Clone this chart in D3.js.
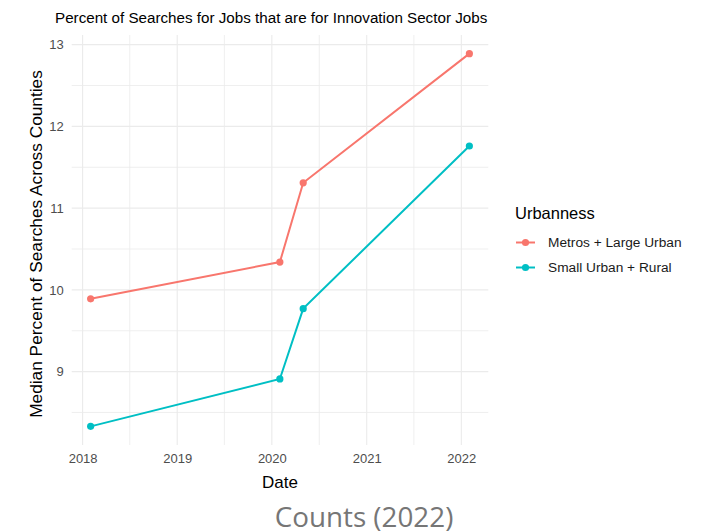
<!DOCTYPE html>
<html>
<head>
<meta charset="utf-8">
<script src="https://cdn.jsdelivr.net/npm/d3@7"></script>
<style>
  body { margin: 0; background: #fff; }
  text { font-family: "Liberation Sans", Arial, sans-serif; }
</style>
</head>
<body>
<div id="chart"></div>
<script>
// data
var dates = ["2018-02-01", "2020-02-01", "2020-05-01", "2022-02-01"];
var metroValues = [9.89, 10.34, 11.31, 12.89];
var ruralValues = [8.33, 8.91, 9.77, 11.76];
var seriesNames = ["Metros + Large Urban", "Small Urban + Rural"];
var seriesColors = ["#F8766D", "#00BFC4"];
var xTickLabels = ["2018", "2019", "2020", "2021", "2022"];
var yTicks = [9, 10, 11, 12, 13];

var width = 703, height = 532;
var parse = d3.timeParse("%Y-%m-%d");

var series = [metroValues, ruralValues].map(function(vals, i) {
    return {
        name: seriesNames[i],
        color: seriesColors[i],
        values: vals.map(function(v, j) { return { date: parse(dates[j]), value: v }; })
    };
});

// panel edges (window.top is read-only, so no "top" here)
var pLeft = 71.7, pRight = 488.3, pTop = 35, pBottom = 445;

// ggplot style 5% expansion
var allDates = dates.map(parse);
var dExt = d3.extent(allDates), dPad = (dExt[1] - dExt[0]) * 0.05;
var x = d3.scaleTime()
    .domain([new Date(+dExt[0] - dPad), new Date(+dExt[1] + dPad)])
    .range([pLeft, pRight]);

var allVals = metroValues.concat(ruralValues);
var vExt = d3.extent(allVals), vPad = (vExt[1] - vExt[0]) * 0.05;
var y = d3.scaleLinear()
    .domain([vExt[0] - vPad, vExt[1] + vPad])
    .range([pBottom, pTop]);

var svg = d3.select("#chart").append("svg")
    .attr("width", width)
    .attr("height", height);

// grid
var xMajor = xTickLabels.map(function(t) { return new Date(+t, 0, 1); });
var xMinor = xTickLabels.slice(0, -1).map(function(t) { return new Date(+t, 6, 2); });
var yMinor = [8.5, 9.5, 10.5, 11.5, 12.5];

var grid = svg.append("g");
grid.selectAll(".vminor").data(xMinor).enter().append("line")
    .attr("x1", function(d) { return x(d); }).attr("x2", function(d) { return x(d); })
    .attr("y1", pTop).attr("y2", pBottom)
    .attr("stroke", "#ebebeb").attr("stroke-width", 0.8);
grid.selectAll(".hminor").data(yMinor).enter().append("line")
    .attr("y1", function(d) { return y(d); }).attr("y2", function(d) { return y(d); })
    .attr("x1", pLeft).attr("x2", pRight)
    .attr("stroke", "#ebebeb").attr("stroke-width", 0.8);
grid.selectAll(".vmajor").data(xMajor).enter().append("line")
    .attr("x1", function(d) { return x(d); }).attr("x2", function(d) { return x(d); })
    .attr("y1", pTop).attr("y2", pBottom)
    .attr("stroke", "#ebebeb").attr("stroke-width", 1.1);
grid.selectAll(".hmajor").data(yTicks).enter().append("line")
    .attr("y1", function(d) { return y(d); }).attr("y2", function(d) { return y(d); })
    .attr("x1", pLeft).attr("x2", pRight)
    .attr("stroke", "#ebebeb").attr("stroke-width", 1.1);

// axes (text only, like theme_minimal)
var xAxis = svg.append("g")
    .attr("transform", "translate(0," + (pBottom + 3) + ")")
    .call(d3.axisBottom(x).tickValues(xMajor).tickFormat(d3.timeFormat("%Y")).tickSize(0).tickPadding(6));
var yAxis = svg.append("g")
    .attr("transform", "translate(" + (pLeft - 3) + ",0)")
    .call(d3.axisLeft(y).tickValues(yTicks).tickFormat(d3.format("d")).tickSize(0).tickPadding(5));
[xAxis, yAxis].forEach(function(a) {
    a.select(".domain").remove();
    a.selectAll("text")
        .attr("fill", "#4d4d4d")
        .style("font-family", "'Liberation Sans', Arial, sans-serif")
        .style("font-size", "13px");
});

// lines and points
var line = d3.line()
    .x(function(d) { return x(d.date); })
    .y(function(d) { return y(d.value); });

var g = svg.append("g").selectAll("g").data(series).enter().append("g");
g.append("path")
    .attr("d", function(d) { return line(d.values); })
    .attr("fill", "none")
    .attr("stroke", function(d) { return d.color; })
    .attr("stroke-width", 2);
g.selectAll("circle").data(function(d) { return d.values.map(function(v) { v.color = d.color; return v; }); })
    .enter().append("circle")
    .attr("cx", function(d) { return x(d.date); })
    .attr("cy", function(d) { return y(d.value); })
    .attr("r", 3.6)
    .attr("fill", function(d) { return d.color; });

// titles
svg.append("text")
    .attr("x", 55).attr("y", 23)
    .style("font-size", "15.2px")
    .attr("fill", "#000")
    .text("Percent of Searches for Jobs that are for Innovation Sector Jobs");

svg.append("text")
    .attr("x", (pLeft + pRight) / 2).attr("y", 488)
    .attr("text-anchor", "middle")
    .style("font-size", "17px")
    .attr("fill", "#000")
    .text("Date");

svg.append("text")
    .attr("transform", "translate(42,244) rotate(-90)")
    .attr("text-anchor", "middle")
    .style("font-size", "17.3px")
    .attr("fill", "#000")
    .text("Median Percent of Searches Across Counties");

// legend
var legend = svg.append("g").attr("transform", "translate(515,0)");
legend.append("text")
    .attr("x", 0).attr("y", 219)
    .style("font-size", "16.5px")
    .attr("fill", "#000")
    .text("Urbanness");
var items = legend.selectAll(".item").data(series).enter().append("g")
    .attr("transform", function(d, i) { return "translate(0," + (242.5 + i * 25) + ")"; });
items.append("line")
    .attr("x1", 1).attr("x2", 20)
    .attr("stroke", function(d) { return d.color; })
    .attr("stroke-width", 2);
items.append("circle")
    .attr("cx", 10.5).attr("r", 3.6)
    .attr("fill", function(d) { return d.color; });
items.append("text")
    .attr("x", 33).attr("y", 4.5)
    .style("font-size", "13.7px")
    .attr("fill", "#1a1a1a")
    .text(function(d) { return d.name; });

// caption below the chart
svg.append("text")
    .attr("x", 364).attr("y", 527)
    .attr("text-anchor", "middle")
    .style("font-family", "'Open Sans', 'Noto Sans', sans-serif")
    .style("font-size", "27.8px")
    .attr("fill", "#767676")
    .text("Counts (2022)");
</script>
</body>
</html>
